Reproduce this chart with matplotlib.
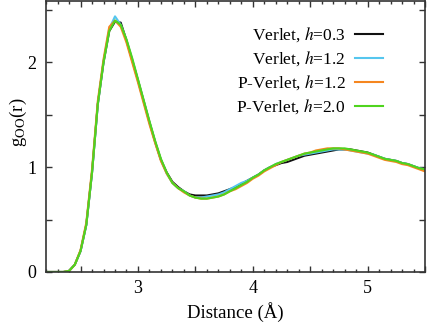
import matplotlib
matplotlib.use("Agg")
import matplotlib.pyplot as plt
from matplotlib.ticker import MultipleLocator, FuncFormatter

plt.rcParams["font.family"] = ["Liberation Serif", "DejaVu Serif"]
plt.rcParams["mathtext.fontset"] = "stix"

r = [2.20, 2.25, 2.30, 2.35, 2.40, 2.45, 2.50, 2.55, 2.60, 2.65,
     2.70, 2.75, 2.80, 2.85, 2.90, 2.95, 3.00, 3.05, 3.10, 3.15,
     3.20, 3.25, 3.30, 3.35, 3.40, 3.45, 3.50, 3.55, 3.60, 3.65,
     3.70, 3.75, 3.80, 3.85, 3.90, 3.95, 4.00, 4.05, 4.10, 4.15,
     4.20, 4.25, 4.30, 4.35, 4.40, 4.45, 4.50, 4.55, 4.60, 4.65,
     4.70, 4.75, 4.80, 4.85, 4.90, 4.95, 5.00, 5.05, 5.10, 5.15,
     5.20, 5.25, 5.30, 5.35, 5.40, 5.45, 5.50]

g_verlet_03 = [0, 0, 0, 0, 0.01, 0.07, 0.20, 0.45, 0.95, 1.60,
               2.00, 2.30, 2.39, 2.38, 2.21, 2.02, 1.83, 1.63, 1.43, 1.24,
               1.07, 0.95, 0.86, 0.81, 0.77, 0.74, 0.73, 0.73, 0.73, 0.74,
               0.75, 0.77, 0.79, 0.81, 0.84, 0.87, 0.90, 0.93, 0.97, 1.00,
               1.02, 1.04, 1.05, 1.07, 1.09, 1.11, 1.12, 1.13, 1.14, 1.15,
               1.16, 1.17, 1.17, 1.17, 1.16, 1.15, 1.14, 1.12, 1.10, 1.08,
               1.07, 1.06, 1.04, 1.03, 1.01, 0.99, 0.97]

g_verlet_12 = [0, 0, 0, 0, 0.01, 0.07, 0.20, 0.45, 0.95, 1.60,
               2.01, 2.32, 2.44, 2.36, 2.21, 2.03, 1.83, 1.63, 1.43, 1.24,
               1.07, 0.94, 0.85, 0.80, 0.77, 0.73, 0.71, 0.71, 0.72, 0.73,
               0.74, 0.76, 0.79, 0.82, 0.85, 0.87, 0.90, 0.93, 0.97, 1.00,
               1.03, 1.05, 1.07, 1.09, 1.11, 1.12, 1.13, 1.14, 1.15, 1.16,
               1.17, 1.17, 1.17, 1.16, 1.15, 1.14, 1.13, 1.12, 1.10, 1.08,
               1.07, 1.06, 1.04, 1.03, 1.01, 0.99, 0.98]

g_pverlet_12 = [0, 0, 0, 0, 0.01, 0.07, 0.21, 0.47, 0.98, 1.63,
                2.03, 2.34, 2.40, 2.34, 2.19, 2.00, 1.81, 1.61, 1.41, 1.23,
                1.06, 0.94, 0.85, 0.80, 0.76, 0.73, 0.71, 0.70, 0.70, 0.71,
                0.72, 0.74, 0.77, 0.79, 0.82, 0.85, 0.89, 0.92, 0.96, 0.99,
                1.02, 1.05, 1.07, 1.09, 1.11, 1.13, 1.14, 1.16, 1.17, 1.18,
                1.18, 1.18, 1.17, 1.16, 1.15, 1.14, 1.13, 1.11, 1.09, 1.07,
                1.06, 1.05, 1.03, 1.02, 1.00, 0.98, 0.96]

g_pverlet_20 = [0, 0, 0, 0, 0.01, 0.07, 0.20, 0.45, 0.95, 1.60,
                2.00, 2.30, 2.40, 2.36, 2.22, 2.04, 1.84, 1.64, 1.44, 1.25,
                1.08, 0.95, 0.85, 0.80, 0.77, 0.73, 0.71, 0.70, 0.70, 0.71,
                0.72, 0.74, 0.77, 0.80, 0.83, 0.86, 0.90, 0.93, 0.97, 1.00,
                1.03, 1.05, 1.07, 1.09, 1.11, 1.13, 1.14, 1.15, 1.16, 1.17,
                1.18, 1.18, 1.18, 1.17, 1.16, 1.15, 1.14, 1.12, 1.10, 1.08,
                1.07, 1.06, 1.04, 1.03, 1.01, 0.99, 0.98]

series = [
    (g_verlet_03, "Verlet, $h$=0.3", "#111111"),
    (g_verlet_12, "Verlet, $h$=1.2", "#55c6ee"),
    (g_pverlet_12, "P-Verlet, $h$=1.2", "#f5861f"),
    (g_pverlet_20, "P-Verlet, $h$=2.0", "#4fd41e"),
]

fig = plt.figure(figsize=(4.35, 3.23), dpi=100)
ax = fig.add_axes([0.106, 0.158, 0.871, 0.840])

for g, label, color in series:
    ax.plot(r, g, color=color, lw=1.5, label=label)

ax.set_xlim(2.2, 5.5)
ax.set_ylim(0, 2.59)
ax.xaxis.set_major_locator(MultipleLocator(0.5))
ax.xaxis.set_minor_locator(MultipleLocator(0.1))
ax.yaxis.set_major_locator(MultipleLocator(0.5))
int_only = FuncFormatter(lambda v, p: f"{v:.0f}" if abs(v - round(v)) < 1e-6 else "")
ax.xaxis.set_major_formatter(int_only)
ax.yaxis.set_major_formatter(int_only)
ax.tick_params(which="both", direction="in", top=True, right=True,
               labelsize=13, color="#333333")
ax.tick_params(axis="x", pad=6)
ax.tick_params(axis="y", pad=7)
ax.tick_params(which="major", length=4, width=1)
ax.tick_params(which="minor", length=2.5, width=1)
for s in ax.spines.values():
    s.set_linewidth(1.2)
    s.set_color("#333333")

ax.set_xlabel("Distance (Å)", fontsize=13.5, va="center")
ax.xaxis.set_label_coords(0.5, -0.148)
ax.set_ylabel(r"g$_{\mathrm{OO}}$(r)", fontsize=13.5, va="center")
ax.yaxis.set_label_coords(-0.074, 0.55)

ax.legend(loc="upper right", bbox_to_anchor=(0.93, 0.965), frameon=False,
          markerfirst=False, fontsize=12.5, handlelength=1.6,
          handletextpad=0.55, labelspacing=0.3)

fig.savefig("out.png", dpi=100)
